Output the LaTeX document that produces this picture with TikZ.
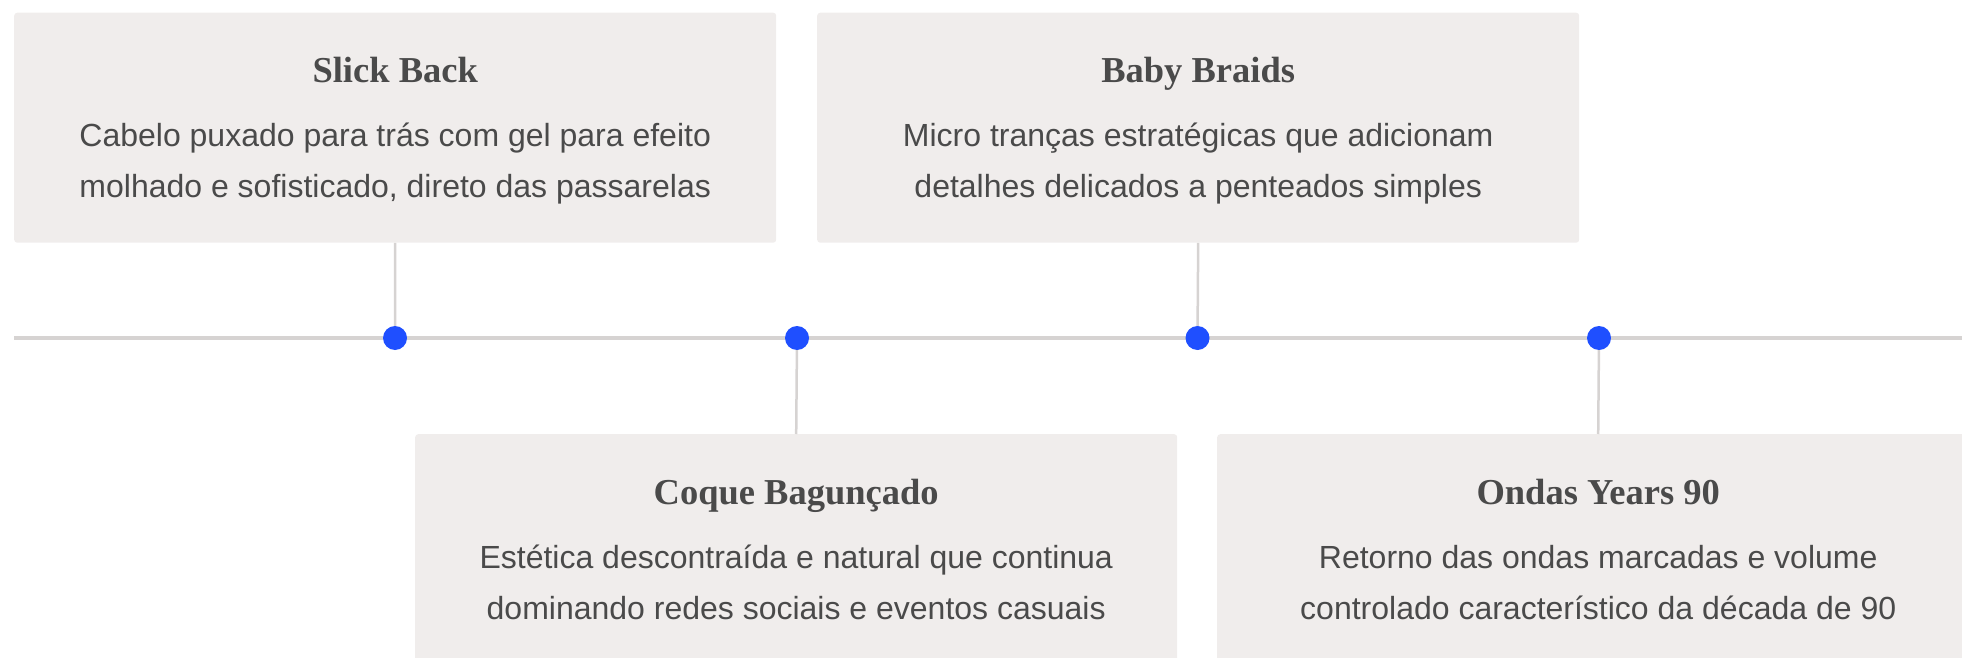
\documentclass[tikz,border=0pt]{standalone}
\usepackage{fontspec}
\setmainfont{Liberation Sans}
\newfontfamily\titlefont{Liberation Serif}
\usetikzlibrary{positioning}

\definecolor{cardfill}{HTML}{F0EDEC}
\definecolor{ink}{HTML}{4A4A4A}
\definecolor{rail}{HTML}{D6D3D2}
\definecolor{dotblue}{HTML}{1F4FFF}

\tikzset{
  card/.style={fill=cardfill, rounded corners=3pt, minimum width=762pt, minimum height=230pt, inner sep=0pt},
  cardtitle/.style={font=\titlefont\bfseries\fontsize{36.5}{40}\selectfont, text=ink, inner sep=0pt, anchor=base},
  cardtext/.style={font=\fontsize{32}{51}\selectfont, text=ink, align=center, inner sep=0pt, anchor=base},
  dot/.style={circle, fill=dotblue, minimum size=24pt, inner sep=0pt},
  rail/.style={draw=rail, line width=3.5pt}
}

\begin{document}
\begin{tikzpicture}[x=1pt,y=-1pt]
  \useasboundingbox (0,0) rectangle (1962,658);
  % Cartoes de cima
  \node[card, anchor=north west] (slick) at (14,12.5) {};
  \node[card, anchor=north west] (braids) at (817,12.5) {};
  % Cartoes de baixo
  \node[card, anchor=north west] (coque) at (415,434) {};
  \node[card, anchor=north west] (ondas) at (1217,434) {};
  % Textos (a ancora base fica na ultima linha)
  \node[cardtitle] at ([yshift=-70pt]slick.north) {Slick Back};
  \node[cardtext] at ([yshift=-185pt]slick.north) {Cabelo puxado para trás com gel para efeito\\molhado e sofisticado, direto das passarelas};
  \node[cardtitle] at ([yshift=-70pt]braids.north) {Baby Braids};
  \node[cardtext] at ([yshift=-185pt]braids.north) {Micro tranças estratégicas que adicionam\\detalhes delicados a penteados simples};
  \node[cardtitle] at ([yshift=-70pt]coque.north) {Coque Bagunçado};
  \node[cardtext] at ([yshift=-185pt]coque.north) {Estética descontraída e natural que continua\\dominando redes sociais e eventos casuais};
  \node[cardtitle] at ([yshift=-70pt]ondas.north) {Ondas Years 90};
  \node[cardtext] at ([yshift=-185pt]ondas.north) {Retorno das ondas marcadas e volume\\controlado característico da década de 90};
  % Linha do tempo
  \coordinate (start) at (14,338);
  \coordinate (end) at (1962,338);
  \draw[rail] (start) -- (end);
  % Marcadores
  \node[dot] (d1) at (395,338) {};
  \node[dot] (d2) at (797,338) {};
  \node[dot] (d3) at (1197.5,338) {};
  \node[dot] (d4) at (1599,338) {};
  % Hastes
  \draw[rail, line width=2.5pt] (slick.south) -- (d1);
  \draw[rail, line width=2.5pt] (braids.south) -- (d3);
  \draw[rail, line width=2.5pt] (coque.north) -- (d2);
  \draw[rail, line width=2.5pt] (ondas.north) -- (d4);
\end{tikzpicture}
\end{document}
